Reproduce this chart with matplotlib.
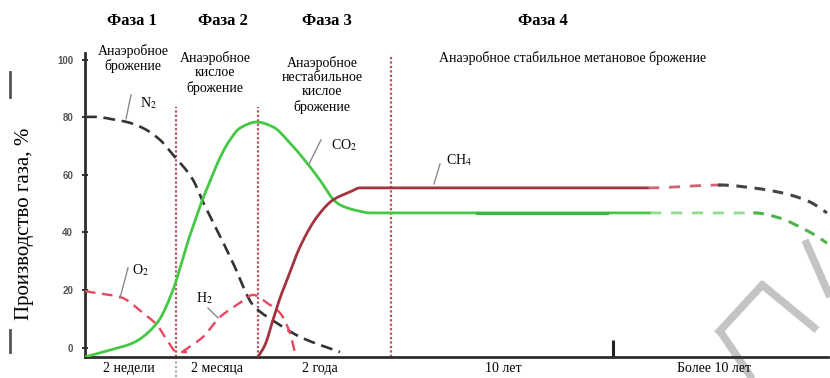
import numpy as np
import matplotlib
matplotlib.use("Agg")
import matplotlib.pyplot as plt
from matplotlib.lines import Line2D

plt.rcParams['font.family'] = ['Liberation Serif', 'DejaVu Serif']
plt.rcParams['mathtext.fontset'] = 'stix'

# ---- data (time axis in arbitrary units, gas share in %) ----
n2_x = [0, 12, 25, 42, 58, 75, 88, 108, 118, 133, 148, 168, 192, 215, 255]
n2_y = [80.2, 80.2, 79.5, 78.4, 76.3, 72.2, 67.0, 58.3, 50.6, 40.2, 29.4, 14.8, 8.5, 3.7, -1.6]

co2_x = [0, 25, 48, 72, 88, 95, 103, 110, 117, 125, 135, 145, 155, 172, 188, 205,
         225, 237, 247, 255, 272, 285, 305, 565, 670, 695, 715, 730, 742]
co2_y = [-3.3, -0.9, 1.6, 8.5, 20.0, 27.6, 37.0, 44.0, 51.0, 57.8, 66.0, 72.2, 76.3,
         78.4, 76.7, 71.1, 62.8, 57.2, 52.0, 49.6, 47.6, 46.8, 46.8, 46.8,
         46.8, 45.0, 41.9, 39.1, 36.3]

ch4_x = [173, 180, 188, 195, 202, 215, 232, 248, 265, 275, 306, 563, 635, 668, 698, 715, 725, 742]
ch4_y = [-3.3, 0.9, 9.6, 17.2, 23.5, 35.0, 45.4, 51.3, 54.1, 55.5, 55.5, 55.5, 56.5,
         55.5, 53.7, 52.0, 50.6, 46.8]

o2_x = [0, 5, 35, 58, 72, 82, 92, 102]
o2_y = [19.7, 19.3, 17.6, 12.0, 7.8, 2.6, -1.6, -1.6]

h2_x = [97, 118, 135, 155, 168, 182, 195, 205, 210]
h2_y = [-1.6, 3.7, 10.6, 15.5, 18.3, 15.5, 12.0, 5.0, -1.9]

phase_bounds = [91, 173, 306]
phase_tops = [83.6, 83.6, 101.0]
phase_titles = ["Фаза 1", "Фаза 2", "Фаза 3", "Фаза 4"]
phase_notes = ["Анаэробное\nброжение",
               "Анаэробное\nкислое\nброжение",
               "Анаэробное\nнестабильное\nкислое\nброжение",
               "Анаэробное стабильное метановое брожение"]

period_pos = [44, 132, 235, 418, 629]
period_labels = ["2 недели", "2 месяца", "2 года", "10 лет", "Более 10 лет"]
period_break = 528

y_ticks = [0, 20, 40, 60, 80, 100]


def pchip(x, y, n=600):
    """Shape-preserving cubic through the given points (for drawing)."""
    x = np.asarray(x, float)
    y = np.asarray(y, float)
    h = np.diff(x)
    d = np.diff(y) / h
    m = np.zeros_like(y)
    m[0], m[-1] = d[0], d[-1]
    for k in range(1, len(x) - 1):
        if d[k - 1] * d[k] <= 0:
            m[k] = 0.0
        else:
            w1 = 2 * h[k] + h[k - 1]
            w2 = h[k] + 2 * h[k - 1]
            m[k] = (w1 + w2) / (w1 / d[k - 1] + w2 / d[k])
    xs = np.linspace(x[0], x[-1], n)
    idx = np.clip(np.searchsorted(x, xs) - 1, 0, len(x) - 2)
    t = (xs - x[idx]) / h[idx]
    h00 = 2 * t**3 - 3 * t**2 + 1
    h10 = t**3 - 2 * t**2 + t
    h01 = -2 * t**3 + 3 * t**2
    h11 = t**3 - t**2
    ys = h00 * y[idx] + h10 * h[idx] * m[idx] + h01 * y[idx + 1] + h11 * h[idx] * m[idx + 1]
    return xs, ys


W, H = 830, 378
fig = plt.figure(figsize=(W / 100, H / 100), dpi=100)
ax = fig.add_axes([85 / W, 1 - 357 / H, 743 / W, 304 / H])
ax.set_facecolor('none')
ax.set_xlim(0, 743)
ax.set_ylim(-3.3, 102.4)

for s in ['top', 'right']:
    ax.spines[s].set_visible(False)
for s in ['left', 'bottom']:
    ax.spines[s].set_linewidth(2.0)
    ax.spines[s].set_color('#2e2e2e')

# grey strokes in the lower right corner (behind the axes)
def fig_stroke(p0, p1, **kw):
    fig.add_artist(Line2D([p0[0] / W, p1[0] / W], [1 - p0[1] / H, 1 - p1[1] / H],
                          transform=fig.transFigure, **kw))

wm = dict(color='#c4c4c4', lw=5.5, solid_capstyle='butt', zorder=-5)
fig_stroke((717, 334), (764, 283), **wm)
fig_stroke((760, 283), (817, 330), **wm)
fig_stroke((720, 331), (753, 380), **wm)
fig_stroke((805, 240), (830, 297), **wm)

# small dark marks at the far left
fig_stroke((10, 72), (10, 97), color='#555555', lw=2, zorder=-5)
fig_stroke((10, 330), (10, 352), color='#555555', lw=2, zorder=-5)

# phase boundaries
for xb, top in zip(phase_bounds, phase_tops):
    ax.plot([xb, xb], [-3.3, top], color='#b8505e', lw=1.6, dashes=(1, 1), zorder=1)
ax.plot([phase_bounds[0], phase_bounds[0]], [-3.3, -10.6], color='#aaaaaa', lw=1.6,
        dashes=(1, 1), clip_on=False, zorder=1)

# N2
xs, ys = pchip(n2_x, n2_y)
ax.plot(xs, ys, color='#333333', lw=1.9, dashes=(4.5, 2.5), zorder=3)

# O2 and H2
xs, ys = pchip(o2_x, o2_y)
ax.plot(xs, ys, color='#e6485f', lw=1.7, dashes=(4.5, 2.8), zorder=3)
xs, ys = pchip(h2_x, h2_y)
ax.plot(xs, ys, color='#e6485f', lw=1.7, dashes=(4.5, 2.8), zorder=3)

# CO2
xs, ys = pchip(co2_x, co2_y, n=1500)
m = xs <= 565
ax.plot(xs[m], ys[m], color='#45c845', lw=2.0, zorder=4)
m = (xs >= 392) & (xs <= 522)
ax.plot(xs[m], ys[m], color='#36b83c', lw=2.2, zorder=4)
m = (xs >= 565) & (xs <= 672)
ax.plot(xs[m], ys[m], color='#8fdc8f', lw=2.0, dashes=(4, 3.5), zorder=4)
m = xs >= 668
ax.plot(xs[m], ys[m], color='#4cb44c', lw=2.2, dashes=(3.5, 2.5), zorder=4)

# CH4
xs, ys = pchip(ch4_x, ch4_y, n=1500)
m = xs <= 563
ax.plot(xs[m], ys[m], color='#a3343f', lw=2.0, zorder=4)
m = (xs >= 563) & (xs <= 637)
ax.plot(xs[m], ys[m], color='#cf6573', lw=2.0, dashes=(4, 3.5), zorder=4)
m = xs >= 633
ax.plot(xs[m], ys[m], color='#444444', lw=2.2, dashes=(3.5, 2.5), zorder=4)

# axes ticks
ax.set_yticks(y_ticks)
ax.set_yticklabels([str(v) for v in y_ticks], fontsize=7, fontweight='bold',
                   family='Liberation Sans', color='#555555')
ax.tick_params(axis='y', direction='inout', length=5, width=1.4, colors='#333333',
               labelcolor='#555555', pad=6)
ax.set_xticks([period_break])
ax.set_xticklabels([''])
ax.tick_params(axis='x', which='major', direction='in', length=12, width=2.2,
               colors='#222222')
ax.set_xticks(period_pos, minor=True)
ax.set_xticklabels(period_labels, minor=True, fontsize=10)
ax.tick_params(axis='x', which='minor', length=0, pad=3.5)

# phase titles and descriptions
for px, title in zip([132, 223, 327, 543], phase_titles):
    fig.text(px / W, 1 - 21 / H, title, ha='center', va='center', fontsize=12,
             fontweight='bold')

box = dict(facecolor='white', edgecolor='none', pad=1.5)
note_pos = [(48, 100.6), (130, 95.5), (237, 91.3), (488, 100.7)]
for (tx, ty), note in zip(note_pos, phase_notes):
    ax.text(tx, ty, note, ha='center', va='center', fontsize=10, linespacing=1.12,
            bbox=box, zorder=6, clip_on=False)

# gas labels with leader lines
labels = [("N$_2$", (55, 85.0), (46, 87.8), (41, 79.5)),
          ("CO$_2$", (246, 70.4), (236, 72.2), (224, 63.8)),
          ("CH$_4$", (361, 65.2), (355, 63.8), (349, 56.9)),
          ("O$_2$", (47, 27.0), (43, 27.7), (35, 17.2)),
          ("H$_2$", (111, 17.2), (123, 13.7), (133, 10.3))]
for txt, (tx, ty), p0, p1 in labels:
    ax.plot([p0[0], p1[0]], [p0[1], p1[1]], color='#8a8a8a', lw=1.0, zorder=5)
    ax.text(tx, ty, txt, ha='left', va='center', fontsize=10,
            bbox=dict(facecolor='white', edgecolor='none', pad=1), zorder=6)

fig.text(25 / W, 1 - 224 / H, "Производство газа, %", rotation=90, ha='center',
         va='center', fontsize=15)

fig.savefig("out.png", dpi=100)
